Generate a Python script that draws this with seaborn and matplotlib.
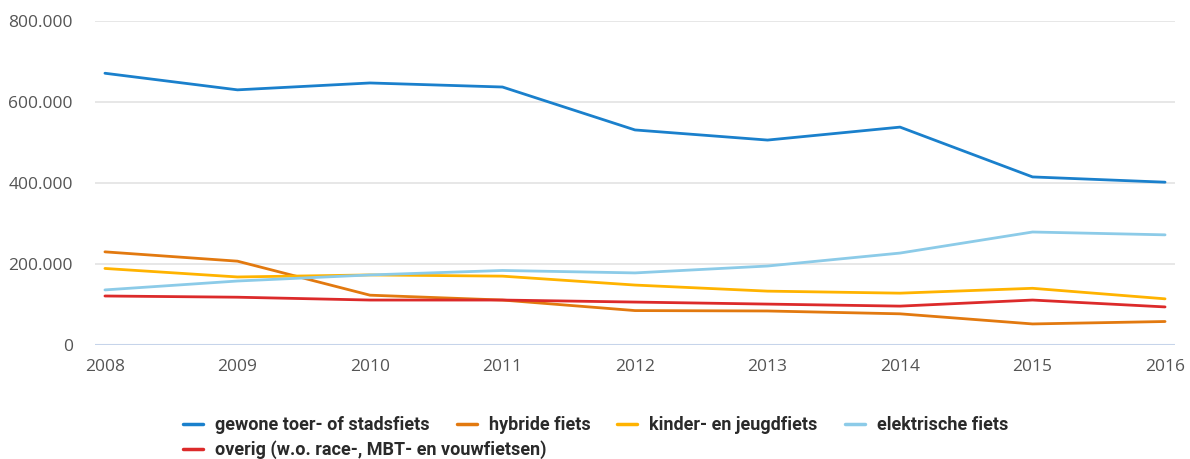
import matplotlib
matplotlib.use("Agg")
import matplotlib.pyplot as plt
from matplotlib.ticker import FuncFormatter
import seaborn as sns
import pandas as pd

# Data (number of bicycles sold per type)
years = [2008, 2009, 2010, 2011, 2012, 2013, 2014, 2015, 2016]
gewone = [671000, 630000, 647000, 637000, 531000, 506000, 538000, 415000, 402000]
hybride = [230000, 207000, 123000, 111000, 85000, 84000, 77000, 52000, 58000]
kinder = [189000, 168000, 173000, 170000, 148000, 133000, 128000, 140000, 114000]
elektrisch = [136000, 158000, 173000, 184000, 178000, 195000, 227000, 279000, 272000]
overig = [121000, 118000, 111000, 111000, 106000, 101000, 96000, 111000, 94000]

labels = ["gewone toer- of stadsfiets", "hybride fiets", "kinder- en jeugdfiets",
          "elektrische fiets", "overig (w.o. race-, MBT- en vouwfietsen)"]
colors = ["#1a80cc", "#e2790f", "#ffb300", "#8ccbe8", "#dc2a2a"]

# long format table for seaborn
rows = []
for lab, vals in zip(labels, [gewone, hybride, kinder, elektrisch, overig]):
    for y, v in zip(years, vals):
        rows.append({"jaar": y, "aantal": v, "soort": lab})
df = pd.DataFrame(rows)

sns.set_theme(style="white")
plt.rcParams['font.family'] = ['Open Sans', 'DejaVu Sans']

fig = plt.figure(figsize=(11.9, 4.59), dpi=100)
ax = fig.add_axes([95 / 1190, 114 / 459, 1080 / 1190, 324 / 459])

sns.lineplot(data=df, x="jaar", y="aantal", hue="soort", hue_order=labels,
             palette=colors, linewidth=2, ax=ax, legend=False, zorder=3)

ax.set_ylim(0, 800000)
ax.set_xlim(2008 - 0.075, 2016 + 0.075)
ax.set_yticks([0, 200000, 400000, 600000, 800000])
ax.set_xticks(years)
ax.yaxis.set_major_formatter(FuncFormatter(lambda v, p: f"{int(v):,}".replace(",", ".")))

for v in [200000, 400000, 600000, 800000]:
    ax.axhline(v, color="#e3e3e3", lw=1.2, zorder=1)
ax.axhline(0, color="#c6d4ea", lw=1.5, zorder=1)

for s in ax.spines.values():
    s.set_visible(False)
ax.tick_params(axis="both", length=0, labelsize=12.5, labelcolor="#555555")
ax.tick_params(axis="y", pad=16)
ax.tick_params(axis="x", pad=10)
ax.set_xlabel("")
ax.set_ylabel("")

# legend: first four items flow on one row, the fifth on a second row
leg_kw = dict(frameon=False, handlelength=1.1, handletextpad=0.67, columnspacing=1.5,
              borderpad=0, borderaxespad=0, labelcolor="#2a2a2a",
              prop={"family": ["Roboto", "DejaVu Sans"], "size": 13, "weight": "bold"})
handles = [plt.Line2D([], [], color=c, lw=2.5) for c in colors]
fig.legend(handles[:4], labels[:4], ncol=4, loc="center left",
           bbox_to_anchor=(183 / 1190, 1 - 425 / 459), **leg_kw)
fig.legend(handles[4:], labels[4:], ncol=1, loc="center left",
           bbox_to_anchor=(183 / 1190, 1 - 450 / 459), **leg_kw)

fig.savefig("out.png", dpi=100)
